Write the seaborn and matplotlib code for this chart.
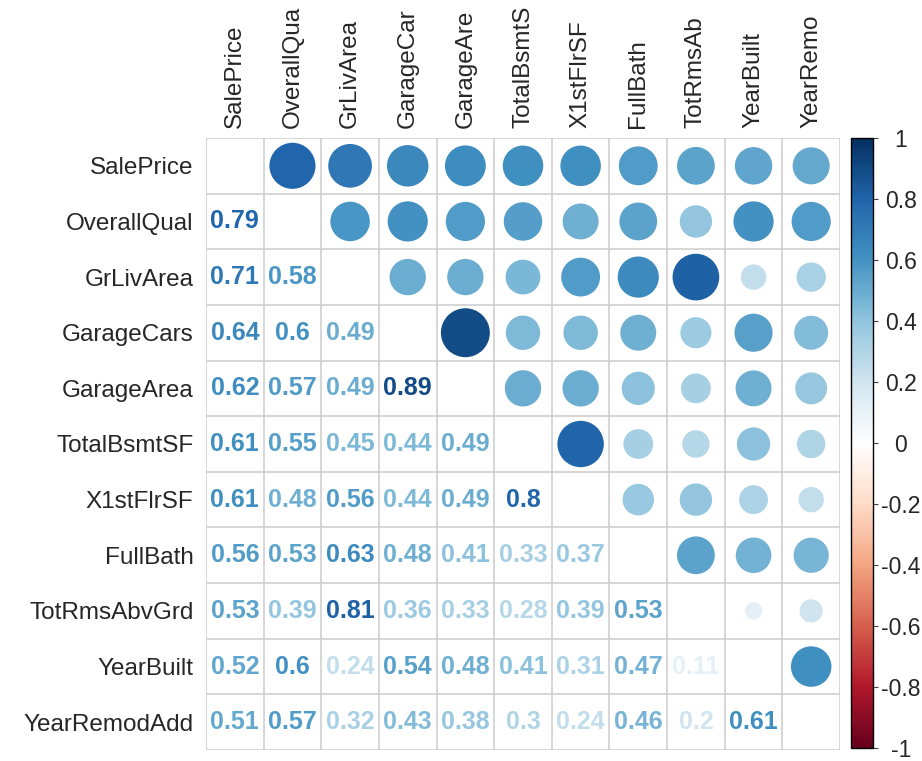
import numpy as np
import pandas as pd
import matplotlib
matplotlib.use("Agg")
import matplotlib.pyplot as plt
from matplotlib.colors import LinearSegmentedColormap, Normalize
from matplotlib.cm import ScalarMappable
import seaborn as sns

variables = ["SalePrice", "OverallQual", "GrLivArea", "GarageCars", "GarageArea",
             "TotalBsmtSF", "X1stFlrSF", "FullBath", "TotRmsAbvGrd", "YearBuilt",
             "YearRemodAdd"]
# column labels as visible in the reference (clipped at the top edge)
col_labels = ["SalePrice", "OverallQua", "GrLivArea", "GarageCar", "GarageAre",
              "TotalBsmtS", "X1stFlrSF", "FullBath", "TotRmsAb", "YearBuilt",
              "YearRemo"]

# lower-triangle correlations, row by row
lower_rows = [
    [],
    [0.79],
    [0.71, 0.58],
    [0.64, 0.60, 0.49],
    [0.62, 0.57, 0.49, 0.89],
    [0.61, 0.55, 0.45, 0.44, 0.49],
    [0.61, 0.48, 0.56, 0.44, 0.49, 0.80],
    [0.56, 0.53, 0.63, 0.48, 0.41, 0.33, 0.37],
    [0.53, 0.39, 0.81, 0.36, 0.33, 0.28, 0.39, 0.53],
    [0.52, 0.60, 0.24, 0.54, 0.48, 0.41, 0.31, 0.47, 0.11],
    [0.51, 0.57, 0.32, 0.43, 0.38, 0.30, 0.24, 0.46, 0.20, 0.61],
]
cbar_ticks = [-1, -0.8, -0.6, -0.4, -0.2, 0, 0.2, 0.4, 0.6, 0.8, 1]
cbar_ticklabels = ["-1", "-0.8", "-0.6", "-0.4", "-0.2", "0", "0.2", "0.4", "0.6", "0.8", "1"]

n = len(variables)
corr = np.eye(n)
for i, row in enumerate(lower_rows):
    for j, v in enumerate(row):
        corr[i, j] = v
        corr[j, i] = v

cmap = LinearSegmentedColormap.from_list(
    "corrRdBu",
    ["#67001F", "#B2182B", "#D6604D", "#F4A582", "#FDDBC7", "#FFFFFF",
     "#D1E5F0", "#92C5DE", "#4393C3", "#2166AC", "#053061"], N=200)
norm = Normalize(-1, 1)

sns.set_style("white")
plt.rcParams["font.family"] = ["Liberation Sans", "DejaVu Sans"]

W, H = 922, 761
fig = plt.figure(figsize=(W / 100, H / 100), dpi=100)
gx0, gx1, gy0, gy1 = 206, 840, 138, 750
ax = fig.add_axes([gx0 / W, 1 - gy1 / H, (gx1 - gx0) / W, (gy1 - gy0) / H])
ax.set_xlim(0, n)
ax.set_ylim(n, 0)

# upper triangle circles
recs = []
for i in range(n):
    for j in range(i + 1, n):
        recs.append({"x": j + 0.5, "y": i + 0.5, "r": corr[i, j]})
df = pd.DataFrame(recs)
cell_px = (gx1 - gx0) / n
dmax_pt = 0.9 * cell_px * 0.72
sns.scatterplot(data=df, x="x", y="y", hue="r", palette=cmap, hue_norm=norm,
                size="r", sizes=(0, dmax_pt ** 2), size_norm=(0, 1),
                linewidth=0, legend=False, ax=ax, zorder=3)

# lower triangle numbers
for i in range(n):
    for j in range(i):
        v = corr[i, j]
        txt = f"{v:.2f}".rstrip("0").rstrip(".")
        ax.text(j + 0.5, i + 0.5, txt, ha="center", va="center",
                fontsize=18, fontweight="bold", color=cmap(norm(v)), zorder=3)

# grid
ax.vlines(np.arange(n + 1), 0, n, color="#cccccc", lw=1.1, zorder=1)
ax.hlines(np.arange(n + 1), 0, n, color="#cccccc", lw=1.1, zorder=1)
for s in ax.spines.values():
    s.set_visible(False)

ax.set_xlabel("")
ax.set_ylabel("")
ax.set_xticks(np.arange(n) + 0.5)
ax.set_xticklabels(col_labels, rotation=90, fontsize=17.5)
ax.xaxis.tick_top()
ax.set_yticks(np.arange(n) + 0.5)
ax.set_yticklabels(variables, fontsize=17.5)
ax.tick_params(axis="x", length=0, pad=7)
ax.tick_params(axis="y", length=0, pad=9)
for lab in ax.get_xticklabels():
    lab.set_va("bottom")

# colorbar
cx0, cx1, cy0, cy1 = 851, 873, 138, 748
cax = fig.add_axes([cx0 / W, 1 - cy1 / H, (cx1 - cx0) / W, (cy1 - cy0) / H])
cb = fig.colorbar(ScalarMappable(norm=norm, cmap=cmap), cax=cax, ticks=cbar_ticks)
cb.outline.set_edgecolor("black")
cb.outline.set_linewidth(1.0)
cb.ax.set_yticklabels(cbar_ticklabels, fontsize=16.5)
cb.ax.tick_params(axis="y", length=3.6, width=0.8, color="#444444", pad=16.5)
for lab in cb.ax.get_yticklabels():
    lab.set_ha("center")

fig.savefig("out.png", dpi=100)
